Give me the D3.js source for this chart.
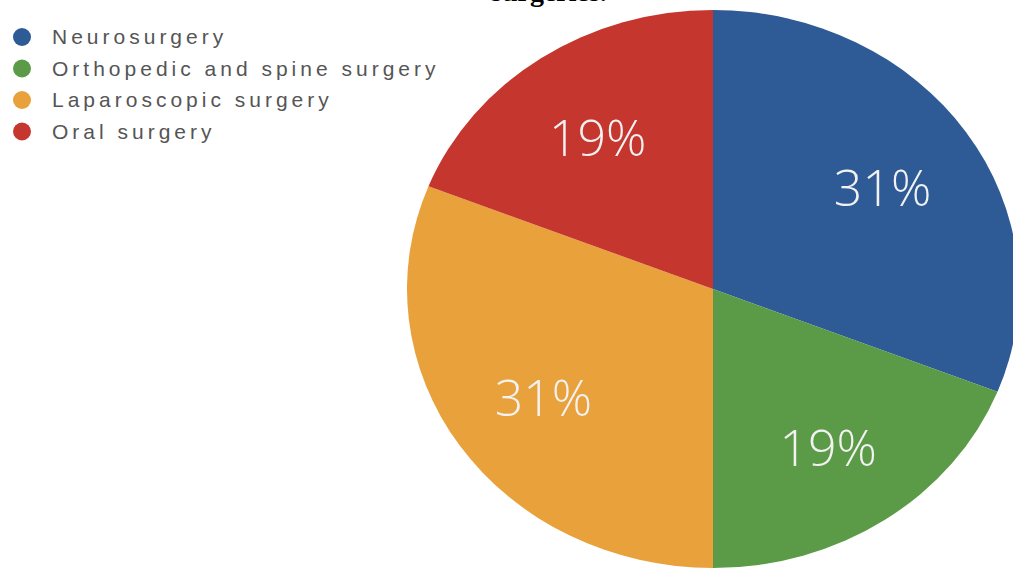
<!DOCTYPE html>
<html>
<head>
<meta charset="utf-8">
<script src="https://cdn.jsdelivr.net/npm/d3@7"></script>
<style>
  body { margin: 0; background: #fff; }
  svg { display: block; }
</style>
</head>
<body>
<div id="chart"></div>
<script>
// data
const categories = ["Neurosurgery", "Orthopedic and spine surgery", "Laparoscopic surgery", "Oral surgery"];
const shares = [31, 19, 31, 19];
const shareLabels = ["31%", "19%", "31%", "19%"];
const colors = ["#2e5a96", "#5b9a47", "#e9a13b", "#c4362e"];

const width = 1013, height = 570;
const cx = 713, cy = 289;
const r = 279;
const stretchX = 306 / 279; // the picture is a bit wider than tall

const svg = d3.select("#chart")
    .append("svg")
    .attr("width", width)
    .attr("height", height);

// cut off title line at the very top
svg.append("text")
    .attr("x", 491)
    .attr("y", 1)
    .style("font-family", "'Liberation Serif', 'Times New Roman', serif")
    .style("font-weight", "bold")
    .style("font-size", "28px")
    .style("fill", "#000")
    .text("surgeries.");

const pie = d3.pie().sort(null).value(d => d);
const arcs = pie(shares);

const arc = d3.arc().innerRadius(0).outerRadius(r);
const labelArc = d3.arc().innerRadius(r * 0.67).outerRadius(r * 0.67);

const g = svg.append("g")
    .attr("transform", `translate(${cx},${cy}) scale(${stretchX},1)`);

g.selectAll(".slice")
    .data(arcs)
    .enter()
    .append("path")
    .attr("class", "slice")
    .attr("fill", (d, i) => colors[i])
    .attr("d", arc);

svg.selectAll(".pct")
    .data(arcs)
    .enter()
    .append("text")
    .attr("class", "pct")
    .attr("x", d => cx + labelArc.centroid(d)[0] * stretchX)
    .attr("y", d => cy + labelArc.centroid(d)[1] + 22)
    .attr("text-anchor", "middle")
    .style("font-family", "'Open Sans', 'Liberation Sans', Arial, sans-serif")
    .style("font-weight", 300)
    .style("font-size", "50px")
    .style("fill", "#f2f2f2")
    .text((d, i) => shareLabels[i]);

// legend
const legend = svg.selectAll(".legend")
    .data(categories)
    .enter()
    .append("g")
    .attr("class", "legend")
    .attr("transform", (d, i) => `translate(22,${37 + i * 31.5})`);

legend.append("circle")
    .attr("r", 9)
    .attr("fill", (d, i) => colors[i]);

legend.append("text")
    .attr("x", 30)
    .attr("y", 7)
    .style("font-family", "'Liberation Sans', Arial, sans-serif")
    .style("font-size", "21px")
    .style("letter-spacing", "4px")
    .style("fill", "#555")
    .text(d => d);
</script>
</body>
</html>
